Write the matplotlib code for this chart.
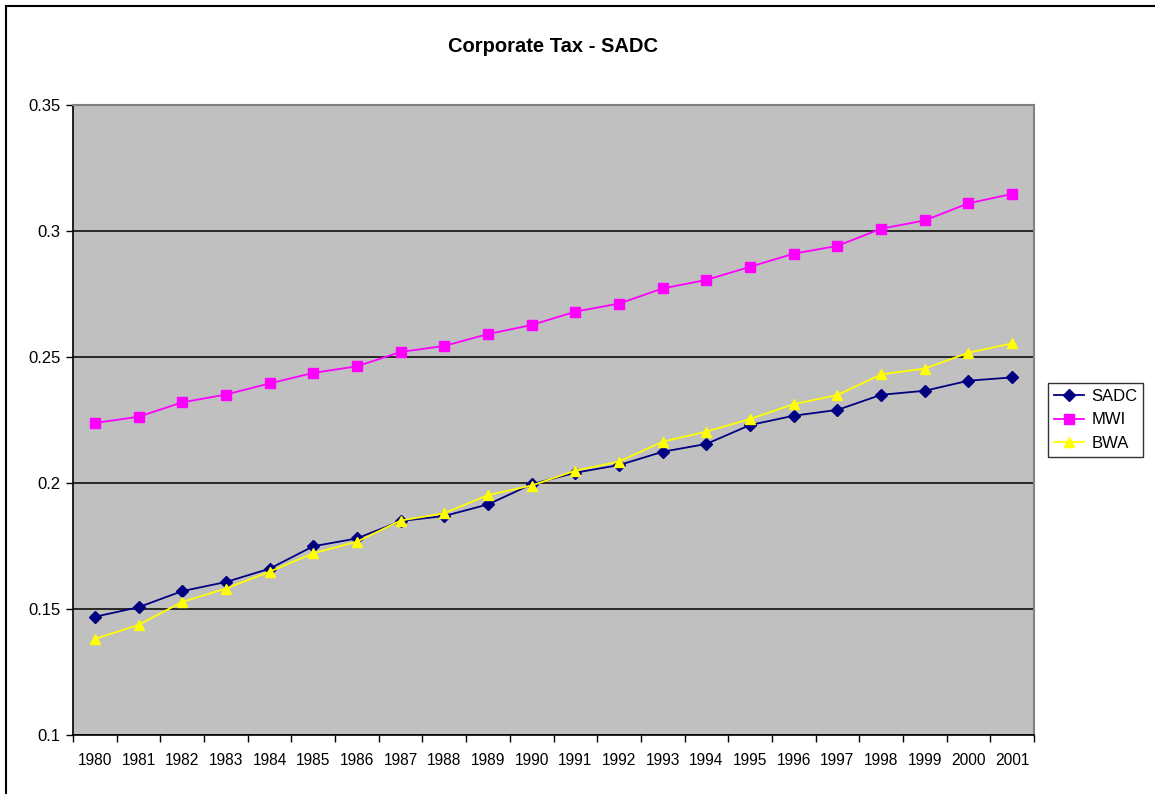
import matplotlib
matplotlib.use('Agg')
import matplotlib.pyplot as plt
from matplotlib.patches import Rectangle
import numpy as np

plt.rcParams['font.family'] = ['Liberation Sans', 'DejaVu Sans']

# data
years = ['1980', '1981', '1982', '1983', '1984', '1985', '1986', '1987', '1988', '1989', '1990',
         '1991', '1992', '1993', '1994', '1995', '1996', '1997', '1998', '1999', '2000', '2001']
sadc = [0.1469, 0.1507, 0.1571, 0.1607, 0.1660, 0.1749, 0.1780, 0.1849, 0.1869, 0.1915, 0.1995,
        0.2041, 0.2071, 0.2124, 0.2155, 0.2230, 0.2267, 0.2290, 0.2350, 0.2366, 0.2406, 0.2419]
mwi = [0.2238, 0.2263, 0.2320, 0.2351, 0.2395, 0.2437, 0.2463, 0.2520, 0.2544, 0.2591, 0.2627,
       0.2680, 0.2712, 0.2772, 0.2806, 0.2858, 0.2910, 0.2941, 0.3009, 0.3042, 0.3110, 0.3147]
bwa = [0.1381, 0.1437, 0.1528, 0.1581, 0.1648, 0.1721, 0.1767, 0.1851, 0.1880, 0.1952, 0.1990,
       0.2049, 0.2085, 0.2164, 0.2204, 0.2254, 0.2313, 0.2349, 0.2431, 0.2454, 0.2517, 0.2554]
series_names = ['SADC', 'MWI', 'BWA']

W, H = 1155, 794
fig = plt.figure(figsize=(W / 100, H / 100), dpi=100)

# outer chart border (runs off the right and bottom of the picture)
fig.patches.append(Rectangle((6 / W, -0.1), 1.2, 1.1 - 6 / H, transform=fig.transFigure,
                             fill=False, edgecolor='black', linewidth=1.5))

ax = fig.add_axes([73 / W, (H - 735) / H, (1034 - 73) / W, (735 - 105) / H])
ax.set_facecolor('#C0C0C0')

x = np.arange(len(years))
ax.plot(x, sadc, color='#000080', marker='D', markersize=6, linewidth=1.3, label=series_names[0])
ax.plot(x, mwi, color='#FF00FF', marker='s', markersize=6.5, linewidth=1.3, label=series_names[1])
ax.plot(x, bwa, color='#FFFF00', marker='^', markersize=7.5, linewidth=1.3, label=series_names[2])

ax.set_xlim(-0.5, len(years) - 0.5)
ax.set_ylim(0.1, 0.35)
ax.set_yticks([0.1, 0.15, 0.2, 0.25, 0.3, 0.35])
ax.set_yticklabels(['0.1', '0.15', '0.2', '0.25', '0.3', '0.35'])
ax.yaxis.grid(True, color='black', linewidth=1.1)
ax.set_axisbelow(True)

# ticks between categories, labels centred on categories
ax.set_xticks(np.arange(len(years) + 1) - 0.5)
ax.set_xticklabels([])
ax.set_xticks(x, minor=True)
ax.set_xticklabels(years, minor=True)
ax.tick_params(axis='x', which='major', direction='out', length=5, width=1, color='black')
ax.tick_params(axis='x', which='minor', length=0, pad=13, labelsize=11.2)
ax.tick_params(axis='y', direction='out', length=5, width=1, labelsize=12, pad=4)

for side in ['left', 'bottom']:
    ax.spines[side].set_color('black')
    ax.spines[side].set_linewidth(1.2)
for side in ['top', 'right']:
    ax.spines[side].set_color('#808080')
    ax.spines[side].set_linewidth(1.5)

fig.text((73 + 1034) / 2 / W, 1 - 46 / H, 'Corporate Tax - SADC', ha='center', va='center',
         fontsize=14.5, fontweight='bold')

leg = fig.legend(loc='center left', bbox_to_anchor=(1048 / W, 1 - 420 / H), fontsize=12,
                 frameon=True, fancybox=False, borderpad=0.35, handlelength=1.8,
                 handletextpad=0.45, labelspacing=0.5, borderaxespad=0)
leg.get_frame().set_edgecolor('black')
leg.get_frame().set_linewidth(1)

fig.savefig('out.png', dpi=100)
